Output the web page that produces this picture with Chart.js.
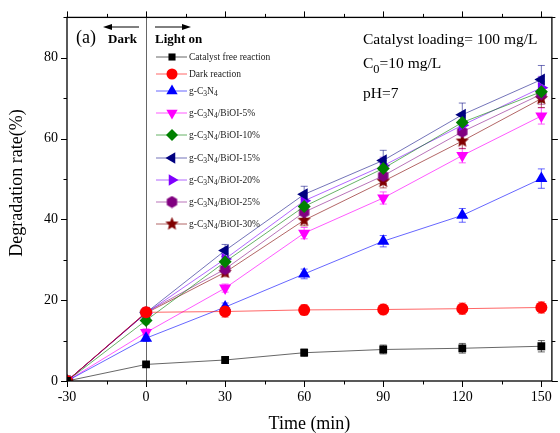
<!DOCTYPE html>
<html>
<head>
<meta charset="utf-8">
<script src="https://cdn.jsdelivr.net/npm/chart.js@4.4.1/dist/chart.umd.min.js"></script>
<style>
html, body { margin: 0; padding: 0; background: #fff; }
#wrap { width: 560px; height: 433px; }
</style>
</head>
<body>
<div id="wrap"><canvas id="chart" width="560" height="433"></canvas></div>
<script>
// data
const times = [-30, 0, 30, 60, 90, 120, 150];
const seriesNames = ['Catalyst free reaction', 'Dark reaction', 'g-C3N4', 'g-C3N4/BiOI-5%',
  'g-C3N4/BiOI-10%', 'g-C3N4/BiOI-15%', 'g-C3N4/BiOI-20%', 'g-C3N4/BiOI-25%', 'g-C3N4/BiOI-30%'];
const catalystFree = [0, 4.1, 5.2, 7.0, 7.8, 8.1, 8.6];
const darkReaction = [0, 17.0, 17.2, 17.6, 17.7, 17.9, 18.2];
const gC3N4 = [0, 10.6, 18.3, 26.5, 34.6, 41.0, 50.1];
const bioi5 = [0, 12.0, 23.0, 36.6, 45.3, 55.8, 65.6];
const bioi10 = [0, 15.0, 29.5, 43.2, 52.6, 64.0, 71.6];
const bioi15 = [0, 16.9, 32.3, 46.2, 54.6, 65.9, 74.6];
const bioi20 = [0, 16.8, 30.2, 44.6, 53.3, 63.3, 72.6];
const bioi25 = [0, 17.0, 27.7, 41.8, 50.8, 61.7, 71.0];
const bioi30 = [0, 16.8, 26.9, 39.8, 49.4, 59.4, 69.9];
// error bars (+/-)
const errCatalystFree = [0, 0.4, 0.6, 0.9, 1.1, 1.2, 1.4];
const errDark = [0, 1.0, 1.4, 1.3, 1.3, 1.4, 1.4];
const errG = [0, 0.8, 1.0, 1.2, 1.4, 1.7, 2.4];
const err5 = [0, 0.9, 1.0, 1.4, 1.5, 1.8, 2.0];
const err10 = [0, 0.9, 1.3, 1.8, 2.0, 2.3, 2.6];
const err15 = [0, 0.8, 1.5, 2.0, 2.5, 2.9, 3.5];
const err20 = [0, 0.8, 1.3, 1.8, 2.1, 2.4, 2.8];
const err25 = [0, 0.8, 1.2, 1.6, 1.9, 2.2, 2.5];
const err30 = [0, 0.8, 1.1, 1.4, 1.6, 1.9, 2.2];
const xTickLabels = ['-30', '0', '30', '60', '90', '120', '150'];
const yTickLabels = ['0', '20', '40', '60', '80'];

const SERIF = "'Liberation Serif', 'Times New Roman', serif";

function makeMarker(kind, color, size) {
  const c = document.createElement('canvas');
  c.width = size; c.height = size;
  const g = c.getContext('2d');
  const cx = size / 2, cy = size / 2, r = size / 2 - 0.5;
  g.fillStyle = color;
  g.beginPath();
  if (kind === 'hex') {
    for (let i = 0; i < 6; i++) {
      const a = Math.PI / 6 + i * Math.PI / 3;
      g.lineTo(cx + r * Math.cos(a), cy + r * Math.sin(a));
    }
  } else {
    for (let i = 0; i < 10; i++) {
      const a = -Math.PI / 2 + i * Math.PI / 5;
      const rr = i % 2 === 0 ? r : r * 0.45;
      g.lineTo(cx + rr * Math.cos(a), cy + rr * Math.sin(a));
    }
  }
  g.closePath();
  g.fill();
  return c;
}

const styles = [
  { color: '#000000', line: 'rgba(0,0,0,0.6)', style: 'rect', rot: 0, radius: 5.5 },
  { color: '#ff0000', line: 'rgba(255,0,0,0.6)', style: 'circle', rot: 0, radius: 6 },
  { color: '#0000ff', line: 'rgba(0,0,255,0.6)', style: 'triangle', rot: 0, radius: 7 },
  { color: '#ff00ff', line: 'rgba(255,0,255,0.65)', style: 'triangle', rot: 180, radius: 7 },
  { color: '#008000', line: 'rgba(0,128,0,0.6)', style: 'rectRot', rot: 0, radius: 6.5 },
  { color: '#000080', line: 'rgba(0,0,128,0.55)', style: 'triangle', rot: -90, radius: 7 },
  { color: '#8000ff', line: 'rgba(128,0,255,0.6)', style: 'triangle', rot: 90, radius: 7 },
  { color: '#800080', line: 'rgba(128,0,128,0.55)', style: makeMarker('hex', '#800080', 13), rot: 0, radius: 6.5 },
  { color: '#800000', line: 'rgba(128,0,0,0.6)', style: makeMarker('star', '#800000', 15), rot: 0, radius: 7 }
];

const values = [catalystFree, darkReaction, gC3N4, bioi5, bioi10, bioi15, bioi20, bioi25, bioi30];
const errors = [errCatalystFree, errDark, errG, err5, err10, err15, err20, err25, err30];

const datasets = values.map((vals, i) => ({
  label: seriesNames[i],
  data: vals.map((v, j) => ({ x: times[j], y: v })),
  borderColor: styles[i].line,
  backgroundColor: styles[i].color,
  borderWidth: 1,
  pointStyle: styles[i].style,
  pointRotation: styles[i].rot,
  pointRadius: styles[i].radius,
  pointBorderWidth: 0,
  pointBorderColor: styles[i].color,
  pointBackgroundColor: styles[i].color,
  tension: 0
}));

// text with subscripted digits after C or N
function drawSubText(ctx, text, x, y, size) {
  let cx = x;
  const parts = text.split(/(?<=[CN])(\d)/);
  parts.forEach((p, k) => {
    if (!p) return;
    const sub = k % 2 === 1;
    ctx.font = (sub ? size * 0.8 : size) + 'px ' + SERIF;
    ctx.fillText(p, cx, sub ? y + size * 0.32 : y);
    cx += ctx.measureText(p).width;
  });
}

function arrow(ctx, x1, x2, y) {
  const dir = Math.sign(x2 - x1);
  ctx.beginPath();
  ctx.moveTo(x1, y);
  ctx.lineTo(x2 - dir * 6, y);
  ctx.stroke();
  ctx.beginPath();
  ctx.moveTo(x2, y);
  ctx.lineTo(x2 - dir * 9, y - 3);
  ctx.lineTo(x2 - dir * 9, y + 3);
  ctx.closePath();
  ctx.fill();
}

const decor = {
  id: 'decor',
  beforeDatasetsDraw(chart) {
    const ctx = chart.ctx, xs = chart.scales.x, ys = chart.scales.y, a = chart.chartArea;
    ctx.save();
    // light-on divider
    ctx.strokeStyle = '#666';
    ctx.lineWidth = 1;
    const x0 = Math.round(xs.getPixelForValue(0)) + 0.5;
    ctx.beginPath(); ctx.moveTo(x0, a.top); ctx.lineTo(x0, a.bottom); ctx.stroke();
    // error bars
    values.forEach((vals, i) => {
      ctx.strokeStyle = styles[i].line;
      vals.forEach((v, j) => {
        const e = errors[i][j];
        if (!e) return;
        const px = xs.getPixelForValue(times[j]);
        const t = ys.getPixelForValue(v + e), b = ys.getPixelForValue(v - e);
        ctx.beginPath();
        ctx.moveTo(px, t); ctx.lineTo(px, b);
        ctx.moveTo(px - 3.5, t); ctx.lineTo(px + 3.5, t);
        ctx.moveTo(px - 3.5, b); ctx.lineTo(px + 3.5, b);
        ctx.stroke();
      });
    });
    ctx.restore();
  },
  afterDraw(chart) {
    const ctx = chart.ctx, xs = chart.scales.x, ys = chart.scales.y, a = chart.chartArea;
    ctx.save();
    ctx.strokeStyle = '#000';
    ctx.fillStyle = '#000';
    ctx.lineWidth = 1.3;
    ctx.strokeRect(a.left, a.top, a.right - a.left, a.bottom - a.top);
    ctx.lineWidth = 1;
    // ticks
    for (let t = -30; t <= 150; t += 15) {
      const px = Math.round(xs.getPixelForValue(t)) + 0.5;
      const len = t % 30 === 0 ? 6 : 3.5;
      ctx.beginPath();
      ctx.moveTo(px, a.bottom); ctx.lineTo(px, a.bottom + len);
      ctx.moveTo(px, a.top); ctx.lineTo(px, a.top - len);
      ctx.stroke();
    }
    for (let v = 0; v <= 90; v += 10) {
      const py = Math.round(ys.getPixelForValue(v)) + 0.5;
      const len = v % 20 === 0 ? 6 : 3.5;
      ctx.beginPath();
      ctx.moveTo(a.left, py); ctx.lineTo(a.left - len, py);
      ctx.moveTo(a.right, py); ctx.lineTo(a.right + len, py);
      ctx.stroke();
    }
    // axis titles
    ctx.textAlign = 'center';
    ctx.textBaseline = 'middle';
    ctx.font = '18px ' + SERIF;
    ctx.fillText('Time (min)', (a.left + a.right) / 2, 424);
    ctx.save();
    ctx.translate(17, 183);
    ctx.rotate(-Math.PI / 2);
    ctx.fillText('Degradation rate(%)', 0, 0);
    ctx.restore();
    // panel label and arrows
    ctx.textAlign = 'left';
    ctx.textBaseline = 'alphabetic';
    ctx.font = '18px ' + SERIF;
    ctx.fillText('(a)', 76, 43);
    ctx.font = 'bold 13px ' + SERIF;
    ctx.fillText('Dark', 108, 43);
    ctx.fillText('Light on', 155, 43);
    arrow(ctx, 139, 103, 27);
    arrow(ctx, 155, 191, 27);
    // conditions
    ctx.font = '15.5px ' + SERIF;
    ctx.fillText('Catalyst loading= 100 mg/L', 363, 44);
    drawSubText(ctx, 'C0=10 mg/L', 363, 68, 15.5);
    ctx.font = '15.5px ' + SERIF;
    ctx.fillText('pH=7', 363, 98);
    // legend
    const rows = [57, 74, 91, 113, 135, 158, 180, 202, 224];
    ctx.textBaseline = 'middle';
    styles.forEach((s, i) => {
      const y = rows[i];
      ctx.strokeStyle = s.line;
      ctx.lineWidth = 1;
      ctx.beginPath(); ctx.moveTo(156, y); ctx.lineTo(187, y); ctx.stroke();
      ctx.fillStyle = s.color;
      Chart.helpers.drawPoint(ctx, { pointStyle: s.style, rotation: s.rot, radius: s.radius - 0.5, borderWidth: 0 }, 172, y);
      ctx.fillStyle = '#222';
      drawSubText(ctx, seriesNames[i], 189, y, 9.5);
    });
    ctx.restore();
  }
};

new Chart(document.getElementById('chart'), {
  type: 'line',
  data: { datasets: datasets },
  options: {
    responsive: false,
    animation: false,
    layout: { padding: { left: 0, right: 2, top: 14, bottom: 0 } },
    plugins: { legend: { display: false }, tooltip: { enabled: false } },
    scales: {
      x: {
        type: 'linear', min: -30, max: 154,
        border: { display: false },
        grid: { display: false, drawTicks: false },
        ticks: {
          stepSize: 30, includeBounds: false, padding: 8, color: '#000',
          font: { family: SERIF, size: 14 }, maxRotation: 0,
          callback: v => xTickLabels.includes(String(v)) ? String(v) : ''
        },
        afterFit: s => { s.height = 52; }
      },
      y: {
        min: 0, max: 90,
        border: { display: false },
        grid: { display: false, drawTicks: false },
        ticks: {
          stepSize: 20, includeBounds: false, padding: 9, color: '#000',
          font: { family: SERIF, size: 14 },
          callback: v => yTickLabels.includes(String(v)) ? String(v) : ''
        },
        afterFit: s => { s.width = 67; }
      }
    }
  },
  plugins: [decor]
});
</script>
</body>
</html>
